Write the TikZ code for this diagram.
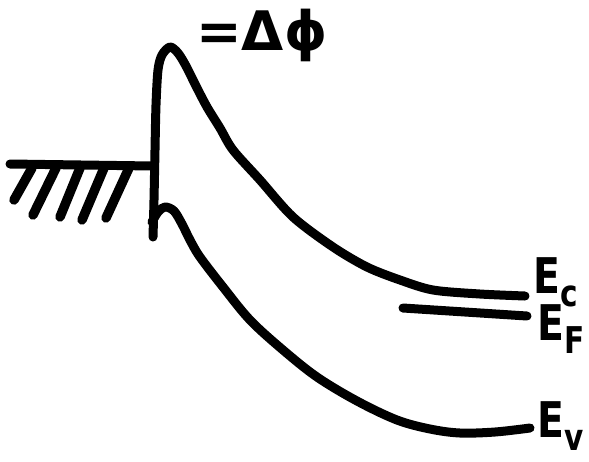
\documentclass[tikz,border=0pt]{standalone}
\usepackage{fontspec}
\usepackage{tikz}
\usetikzlibrary{positioning, calc}
\newfontfamily\bandfont{DejaVu Sans}[FakeStretch=0.8]
\newfontfamily\phifont{DejaVu Sans}
\definecolor{bdInk}{HTML}{000000}
\newcommand{\bandlbl}[1]{E\raisebox{-0.28em}{\fontsize{21}{24}\selectfont #1}}
\tikzset{
  bd-band/.style={
    draw=bdInk, line width=0.18cm, line cap=round, line join=round
  },
  bd-hatch/.style={
    draw=bdInk, line width=0.19cm, line cap=round
  },
  bd-label/.style={
    inner sep=0pt, text=bdInk,
    font=\bandfont\bfseries\fontsize{28}{32}\selectfont
  },
}

\begin{document}
\begin{tikzpicture}[x=0.02cm, y=-0.02cm]
  \useasboundingbox (0,0) rectangle (589,461);

  \coordinate (base) at (153,237);
  \coordinate (peak) at (170,47);
  \coordinate (ec-end) at (525,296);
  \coordinate (ef-start) at (403,308);
  \coordinate (ef-end) at (527,316);
  \coordinate (ev-start) at (152,222);
  \coordinate (ev-end) at (530,428);

  % metal side
  \draw[bd-band] (10,164) -- (153,166);
  \foreach \xa/\xb/\yb in {32/14/200, 56/33/215, 80/60/217, 104/82/220, 129/106/218}
    \draw[bd-hatch] (\xa,168) -- (\xb,\yb);

  % barrier and conduction band
  \draw[bd-band] plot[smooth, tension=0.5] coordinates {
    (base) (154,200) (155,150) (156,105) (158,70) (162,55) (peak) (178,53)
    (186,66) (196,86) (207,107) (220,128) (233,150) (260,180) (293,217)
    (333,247) (367,267) (400,280) (433,290) (480,294) (ec-end)};

  % valence band
  \draw[bd-band] plot[smooth, tension=0.55] coordinates {
    (ev-start) (158,212) (165,207) (174,211) (182,224) (190,240) (200,257)
    (223,287) (250,320) (283,350) (317,377) (357,401) (397,420) (430,429)
    (460,433) (495,432) (ev-end)};

  % Fermi level
  \draw[bd-band] (ef-start) -- (ef-end);

  \node[bd-label, font=\phifont\bfseries\fontsize{31}{34}\selectfont,
        right=0.52cm of peak, anchor=base west, yshift=-0.06cm] (dphi) {=Δϕ};
  \node[bd-label, right=0.16cm of ec-end, anchor=base west, yshift=0.06cm] (ec) {\bandlbl{c}};
  \node[bd-label, right=0.2cm of ef-end, anchor=base west, yshift=-0.48cm] (ef) {\bandlbl{F}};
  \node[bd-label, right=0.14cm of ev-end, anchor=base west, yshift=-0.18cm] (ev) {\bandlbl{v}};
\end{tikzpicture}
\end{document}
